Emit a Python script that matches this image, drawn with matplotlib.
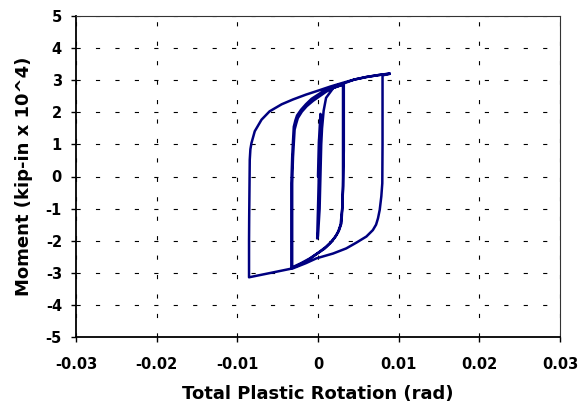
import matplotlib
matplotlib.use("Agg")
import matplotlib.pyplot as plt

plt.rcParams['font.family'] = ['DejaVu Sans']
plt.rcParams['font.weight'] = 'bold'
plt.rcParams['lines.scale_dashes'] = False
plt.rcParams['axes.unicode_minus'] = False

# Hysteresis path: total plastic rotation (rad) vs moment (kip-in x 10^4)
rotation = [
    # small elastic cycles near zero
    0.0, 0.0001, 0.0003, 0.0004, 0.0003, 0.0001, 0.0, -0.0001, 0.0, 0.0002, 0.0003, 0.0004,
    0.0005, 0.0007, 0.0010, 0.0019, 0.0031,
    # first intermediate cycle
    0.0031, 0.0031, 0.0031, 0.0030, 0.0029, 0.0026, 0.0023, 0.0017, 0.0010, 0.0000, -0.0010, -0.0021, -0.0032,
    -0.0032, -0.0032, -0.0031, -0.0030, -0.0029, -0.0027, -0.0025, -0.0020, -0.0014, -0.0006, 0.0002, 0.0010, 0.0019, 0.0032,
    # second intermediate cycle
    0.0032, 0.0031, 0.0030, 0.0028, 0.0025, 0.0021, 0.0015, 0.0008, -0.0002, -0.0012, -0.0022, -0.0033,
    -0.0033, -0.0032, -0.0031, -0.0030, -0.0028, -0.0026, -0.0021, -0.0015, -0.0008, 0.0000, 0.0009, 0.0018, 0.0032,
    # large cycle
    0.0045, 0.0060, 0.0075, 0.0089, 0.0080,
    0.0080, 0.0080, 0.00797, 0.00785, 0.00765, 0.00744, 0.0072, 0.0068, 0.0060, 0.00476, 0.0035, 0.00186,
    -0.0002, -0.0015, -0.0031, -0.0060, -0.00855,
    -0.00855, -0.00853, -0.00846, -0.00838, -0.00825, -0.00784, -0.0070, -0.0060, -0.0045, -0.0031,
    -0.0015, 0.0002, 0.0015, 0.0031, 0.0045, 0.0060, 0.0075, 0.0089,
]
moment = [
    0.0, 1.0, 1.95, 1.9, 1.0, 0.0, -1.0, -1.93, -1.85, -1.0, 0.0, 1.0,
    1.5, 2.05, 2.45, 2.76, 2.87,
    2.0, 0.83, -0.3, -1.04, -1.46, -1.68, -1.82, -2.02, -2.19, -2.38, -2.55, -2.7, -2.83,
    -2.0, -0.21, 0.6, 1.04, 1.46, 1.65, 1.82, 2.02, 2.19, 2.36, 2.5, 2.64, 2.76, 2.87,
    0.8, -0.4, -1.0, -1.5, -1.72, -1.9, -2.08, -2.25, -2.42, -2.6, -2.74, -2.86,
    -0.2, 0.6, 1.1, 1.55, 1.75, 1.9, 2.08, 2.25, 2.42, 2.55, 2.7, 2.8, 2.9,
    3.02, 3.1, 3.16, 3.2, 3.15,
    2.0, 1.0, -0.21, -0.62, -1.04, -1.30, -1.5, -1.67, -1.87, -2.06, -2.24, -2.4,
    -2.55, -2.7, -2.86, -3.01, -3.14,
    -2.0, -1.25, 0.52, 0.85, 1.04, 1.41, 1.77, 2.03, 2.25, 2.4,
    2.55, 2.69, 2.8, 2.92, 3.02, 3.1, 3.16, 3.21,
]

x_ticks = [-0.03, -0.02, -0.01, 0, 0.01, 0.02, 0.03]
x_tick_labels = ['-0.03', '-0.02', '-0.01', '0', '0.01', '0.02', '0.03']
y_ticks = [-5, -4, -3, -2, -1, 0, 1, 2, 3, 4, 5]
y_tick_labels = ['-5', '-4', '-3', '-2', '-1', '0', '1', '2', '3', '4', '5']

W, H = 588, 413
L, R, T, B = 76, 560, 16, 337
fig = plt.figure(figsize=(W / 100, H / 100), dpi=100)
ax = fig.add_axes([L / W, 1 - B / H, (R - L) / W, (B - T) / H])

ax.plot(rotation, moment, color='#000080', lw=1.8, solid_joinstyle='round',
        solid_capstyle='round', zorder=3)

ax.set_xlim(-0.03, 0.03)
ax.set_ylim(-5, 5)
ax.set_xticks(x_ticks)
ax.set_xticklabels(x_tick_labels)
ax.set_yticks(y_ticks)
ax.set_yticklabels(y_tick_labels)
ax.tick_params(axis='both', direction='out', length=3.6, width=1, labelsize=10.5)
ax.tick_params(axis='x', pad=11)
ax.tick_params(axis='y', pad=6.5)

ax.grid(True, color='black', lw=0.8, linestyle=(0, (3, 11)))
ax.set_axisbelow(True)

for s in ['left', 'bottom']:
    ax.spines[s].set_linewidth(1.3)
    ax.spines[s].set_color('black')
for s in ['top', 'right']:
    ax.spines[s].set_linewidth(0.8)
    ax.spines[s].set_color('#333333')

ax.set_xlabel('Total Plastic Rotation (rad)', fontsize=13, fontweight='bold')
ax.set_ylabel('Moment (kip-in x 10^4)', fontsize=13, fontweight='bold')
ax.xaxis.set_label_coords(0.5, (B - 385) / (B - T))
ax.yaxis.set_label_coords((33 - L) / (R - L), 0.5)

fig.savefig('out.png', dpi=100)
